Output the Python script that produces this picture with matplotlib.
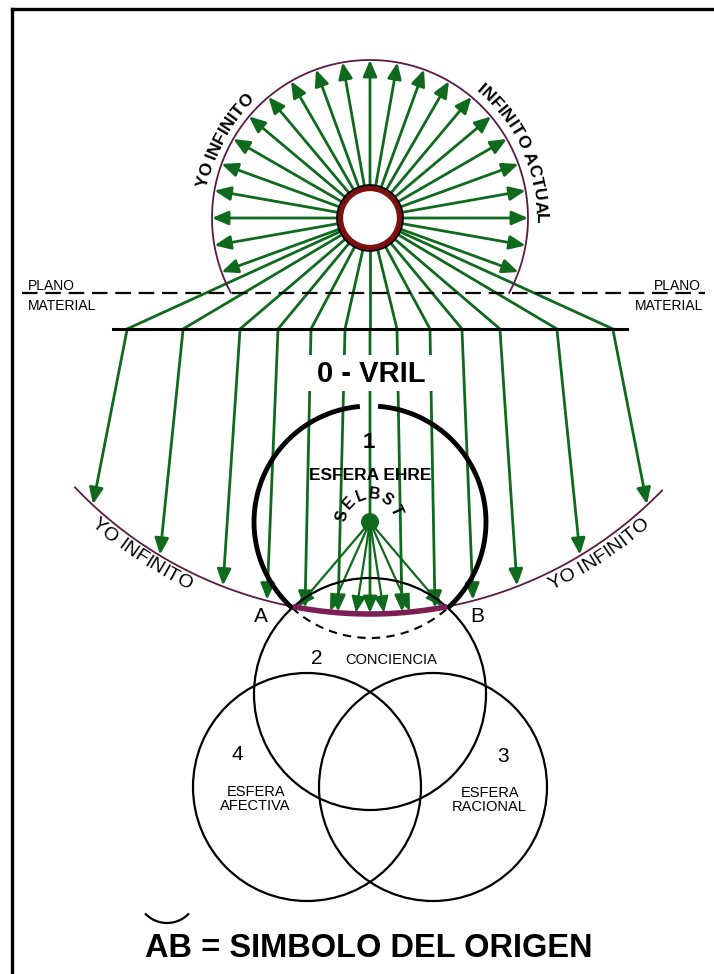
import numpy as np
import matplotlib
matplotlib.use('Agg')
import matplotlib.pyplot as plt
from matplotlib.patches import Circle, Rectangle, ArrowStyle

plt.rcParams['font.family'] = ['Liberation Sans', 'DejaVu Sans']

W, H = 714, 974

# ---------------- data ----------------
top_center = (370, 218)
top_radius = 158
core_radius = 30
upper_ray_angles = [-20, -10, 0, 10, 20, 30, 40, 50, 60, 70, 80, 90, 100,
                    110, 120, 130, 140, 150, 160, 170, 180, 190, 200]
plane_y = 293
bar_y = 329
bar_x = (113, 627)
fan_top_x = [127, 183, 240, 278, 311, 345, 370, 397, 430, 462, 500, 557, 613]
fan_end_x = [93, 160, 223, 267, 305, 338, 370, 402, 435, 473, 517, 580, 647]
arc_center = (370, 207)
arc_radius = 407
arc_x_range = (75, 662)
origin_x = (293, 447)
sphere1 = (370, 522, 116)
sphere2 = (370, 694, 116)
sphere3 = (433, 787, 114)
sphere4 = (307, 787, 114)
selbst_end_x = [298, 330, 356, 384, 410, 442]
selbst_letters = list("SELBST")
selbst_angles = [166, 137, 110, 82, 54, 24]

GREEN = '#0f6a1e'
PURPLE = '#5b1a48'
MAGENTA = '#7d1f55'

REG = {'Y': 667, 'O': 778, ' ': 278, 'I': 278, 'N': 722, 'F': 611, 'T': 611,
       'A': 667, 'C': 722, 'U': 722, 'L': 556, 'S': 667, 'E': 667, 'B': 667}
BOLD = {'Y': 667, 'O': 778, ' ': 278, 'I': 278, 'N': 722, 'F': 611, 'T': 611,
        'A': 722, 'C': 722, 'U': 722, 'L': 611, 'S': 667, 'E': 667, 'B': 722}

fig = plt.figure(figsize=(W / 100, H / 100), dpi=100)
ax = fig.add_axes([0, 0, 1, 1])
ax.set_xlim(0, W)
ax.set_ylim(H, 0)
ax.axis('off')


def arc_xy(cx, cy, r, t0, t1, n=300):
    t = np.radians(np.linspace(t0, t1, n))
    return cx + r * np.cos(t), cy - r * np.sin(t)


def lower_arc_y(x):
    cx, cy = arc_center
    return cy + np.sqrt(arc_radius ** 2 - (x - cx) ** 2)


def lower_arc_t(x):
    return -np.degrees(np.arccos((x - arc_center[0]) / arc_radius))


def arrow(p0, p1, z=2, lw=2.0):
    ax.annotate('', xy=p1, xytext=p0,
                arrowprops=dict(arrowstyle=ArrowStyle('-|>', head_length=0.65, head_width=0.28),
                                color=GREEN, lw=lw, mutation_scale=15,
                                shrinkA=0, shrinkB=0),
                zorder=z)


def curved(s, cx, cy, r, mid, fs, weight, outward=True, spacing=1.0):
    table = BOLD if weight == 'bold' else REG
    px = fs * 100 / 72 / 1000
    widths = [table.get(c, 600) * px * spacing for c in s]
    total = sum(widths)
    span = np.degrees(total / r)
    cum = 0
    for c, w in zip(s, widths):
        off = np.degrees((cum + w / 2) / r)
        if outward:
            t = mid + span / 2 - off
            rot = t - 90
        else:
            t = mid - span / 2 + off
            rot = t + 90
        x = cx + r * np.cos(np.radians(t))
        y = cy - r * np.sin(np.radians(t))
        ax.text(x, y, c, rotation=rot, rotation_mode='anchor', ha='center', va='center',
                fontsize=fs, fontweight=weight, color='black', zorder=6)
        cum += w


# ---------------- border ----------------
ax.plot([12, 12], [974, 9], color='black', lw=2.4, solid_capstyle='projecting', zorder=10)
ax.plot([12, 714], [9, 9], color='black', lw=2.4, solid_capstyle='projecting', zorder=10)

# ---------------- top circle ----------------
cx, cy = top_center
xs, ys = arc_xy(cx, cy, top_radius, -28.3, 208.3)
ax.plot(xs, ys, color=PURPLE, lw=1.3, zorder=3)

for a in upper_ray_angles:
    t = np.radians(a)
    p0 = (cx + (core_radius + 1) * np.cos(t), cy - (core_radius + 1) * np.sin(t))
    p1 = (cx + top_radius * np.cos(t), cy - top_radius * np.sin(t))
    arrow(p0, p1)

for xt in fan_top_x:
    d = np.array([xt - cx, bar_y - cy], float)
    d /= np.hypot(*d)
    p0 = (cx + d[0] * (core_radius + 1), cy + d[1] * (core_radius + 1))
    ax.plot([p0[0], xt], [p0[1], bar_y], color=GREEN, lw=2.0, zorder=2)

ax.add_patch(Circle(top_center, core_radius, facecolor='white', edgecolor='#7a1010', lw=4.5, zorder=4))
ax.add_patch(Circle(top_center, core_radius + 3, facecolor='none', edgecolor='black', lw=1.2, zorder=4))

curved('YO INFINITO', cx, cy, 170, 152, 12.5, 'bold', outward=True)
curved('INFINITO ACTUAL', cx, cy, 170, 24, 12.5, 'bold', outward=True, spacing=1.03)

# ---------------- plano material ----------------
ax.plot([22, 705], [plane_y, plane_y], color='black', lw=1.6, dashes=(7, 3.5), zorder=3)
ax.text(28, plane_y - 3, 'PLANO', fontsize=10, ha='left', va='baseline', zorder=6)
ax.text(28, plane_y + 17, 'MATERIAL', fontsize=10, ha='left', va='baseline', zorder=6)
ax.text(701, plane_y - 3, 'PLANO', fontsize=10, ha='right', va='baseline', zorder=6)
ax.text(703, plane_y + 17, 'MATERIAL', fontsize=10, ha='right', va='baseline', zorder=6)

ax.plot(bar_x, [bar_y, bar_y], color='black', lw=2.2, zorder=3)

# ---------------- descending arrows ----------------
for xt, xe in zip(fan_top_x, fan_end_x):
    arrow((xt, bar_y + 1), (xe, lower_arc_y(xe) - 1))

# VRIL label with white mask
ax.add_patch(Rectangle((300, 355), 142, 36, facecolor='white', edgecolor='none', zorder=3))
ax.text(371, 374, '0 - VRIL', fontsize=21, fontweight='bold', ha='center', va='center', zorder=6)

# ---------------- lower arc (YO INFINITO) ----------------
xs, ys = arc_xy(arc_center[0], arc_center[1], arc_radius,
                lower_arc_t(arc_x_range[0]), lower_arc_t(arc_x_range[1]))
ax.plot(xs, ys, color=PURPLE, lw=1.3, zorder=3)
xs, ys = arc_xy(arc_center[0], arc_center[1], arc_radius,
                lower_arc_t(origin_x[0]), lower_arc_t(origin_x[1]))
ax.plot(xs, ys, color=MAGENTA, lw=4, zorder=5, solid_capstyle='butt')

curved('YO INFINITO', arc_center[0], arc_center[1], 419, 236.7, 14, 'normal', outward=False)
curved('YO INFINITO', arc_center[0], arc_center[1], 419, 303.3, 14, 'normal', outward=False)

# ---------------- sphere 1 (Ehre) ----------------
s1x, s1y, s1r = sphere1
xs, ys = arc_xy(s1x, s1y, s1r, -47.7, 86)
ax.plot(xs, ys, color='black', lw=3.5, zorder=4, solid_capstyle='butt')
xs, ys = arc_xy(s1x, s1y, s1r, 95, 227.7)
ax.plot(xs, ys, color='black', lw=3.5, zorder=4, solid_capstyle='butt')
xs, ys = arc_xy(s1x, s1y, s1r, 227.7, 312.3)
ax.plot(xs, ys, color='black', lw=1.5, dashes=(4, 3), zorder=4)

ax.text(369, 442, '1', fontsize=16, fontweight='bold', ha='center', va='center', zorder=6)
ax.text(370, 476, 'ESFERA EHRE', fontsize=12.5, fontweight='bold', ha='center', va='center', zorder=6)

# selbst
for xe in selbst_end_x:
    d = np.array([xe - s1x, lower_arc_y(xe) - s1y], float)
    L = np.hypot(*d)
    p0 = (s1x + d[0] / L * 8, s1y + d[1] / L * 8)
    arrow(p0, (xe, lower_arc_y(xe) - 1), z=3, lw=1.6)
ax.add_patch(Circle((s1x, s1y), 9, facecolor=GREEN, edgecolor='none', zorder=5))
for ch, a in zip(selbst_letters, selbst_angles):
    t = np.radians(a)
    ax.text(s1x + 28 * np.cos(t), s1y - 28 * np.sin(t), ch, rotation=a - 90,
            rotation_mode='anchor', ha='center', va='center', fontsize=11.5,
            fontweight='bold', zorder=6)

# ---------------- spheres 2, 3, 4 ----------------
for (sx, sy, sr) in (sphere2, sphere3, sphere4):
    ax.add_patch(Circle((sx, sy), sr, facecolor='none', edgecolor='black', lw=1.6, zorder=4))

ax.text(261, 616, 'A', fontsize=15, ha='center', va='center', zorder=6)
ax.text(477, 616, 'B', fontsize=15, ha='center', va='center', zorder=6)

ax.text(317, 658, '2', fontsize=15, ha='center', va='center', zorder=6)
ax.text(391, 660, 'CONCIENCIA', fontsize=10.5, ha='center', va='center', zorder=6)

ax.text(237, 755, '4', fontsize=15, ha='center', va='center', zorder=6)
ax.text(256, 792, 'ESFERA', fontsize=10.5, ha='center', va='center', zorder=6)
ax.text(255, 806, 'AFECTIVA', fontsize=10.5, ha='center', va='center', zorder=6)

ax.text(503, 757, '3', fontsize=15, ha='center', va='center', zorder=6)
ax.text(490, 793, 'ESFERA', fontsize=10.5, ha='center', va='center', zorder=6)
ax.text(489, 807, 'RACIONAL', fontsize=10.5, ha='center', va='center', zorder=6)

# ---------------- bottom caption ----------------
ax.text(145, 957, 'AB = SIMBOLO DEL ORIGEN', fontsize=23.5, fontweight='bold',
        ha='left', va='baseline', zorder=6)
xs, ys = arc_xy(167, 893, 30, 225, 315)
ax.plot(xs, ys, color='black', lw=1.6, zorder=6)

fig.savefig('out.png', dpi=100, facecolor='white')
